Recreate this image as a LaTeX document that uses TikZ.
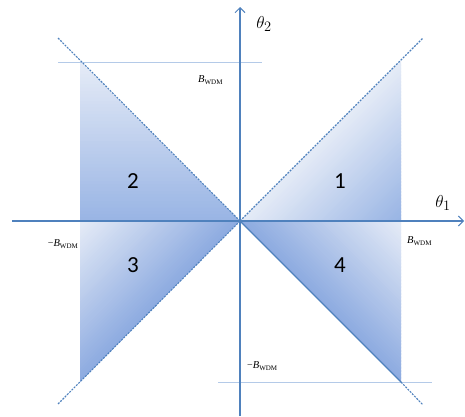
\documentclass[tikz,border=0pt]{standalone}
\usepackage{fontspec}
\setmainfont{Liberation Serif}
\newfontfamily\numfont{Carlito}
\usetikzlibrary{arrows.meta,calc}
\definecolor{axblue}{RGB}{79,129,189}
\definecolor{thinblue}{RGB}{180,202,232}
\definecolor{lightfill}{RGB}{230,236,247}
\definecolor{darkfill}{RGB}{140,170,224}
\definecolor{midfill}{RGB}{152,180,228}
\newcommand{\bwdm}{{\fontsize{10.5}{12}\selectfont\itshape B}\raisebox{-0.45ex}{\fontsize{7}{8}\selectfont WDM}}
% gradient triangle: apex #1, base #2--#3, base colour #4, apex colour #5
\newcommand{\gradtri}[5]{%
  \foreach \i in {0,...,47}{%
    \pgfmathsetmacro\sa{\i/48}%
    \pgfmathsetmacro\sb{min((\i+1)/48+0.012,1)}%
    \pgfmathtruncatemacro\pc{100-100*(\i+0.5)/48}%
    \fill[color=#4!\pc!#5] ($(#2)!\sa!(#1)$) -- ($(#3)!\sa!(#1)$) -- ($(#3)!\sb!(#1)$) -- ($(#2)!\sb!(#1)$) -- cycle;
  }%
}
\tikzset{
  axisline/.style={draw=axblue, line width=1.2pt, -{Straight Barb[length=5pt,width=10pt,line width=1pt]}},
  diagdash/.style={draw=axblue, line width=1.1pt, dash pattern=on 2pt off 1.2pt},
  diagsolid/.style={draw=axblue, line width=1.4pt},
  guide/.style={draw=thinblue, line width=0.5pt},
  numlabel/.style={font=\numfont\fontsize{23}{26}\selectfont, inner sep=0pt},
  axlabel/.style={font=\fontsize{19}{22}\selectfont, inner sep=0pt},
  blabel/.style={inner sep=0pt}
}
\begin{document}
\begin{tikzpicture}[x=1pt,y=-1pt]
\useasboundingbox (0,0) rectangle (465,416);
% key coordinates
\coordinate (O) at (240,221);
\coordinate (TR) at (401,61);
\coordinate (TL) at (80,61);
\coordinate (BR) at (401,382);
\coordinate (BL) at (80,382);
\coordinate (R) at (401,221);
\coordinate (L) at (80,221);
\coordinate (dTL) at (58,38);
\coordinate (dTR) at (423,38);
\coordinate (dBL) at (58,404);
\coordinate (dBR) at (423,405);
\coordinate (gTa) at (58,62);
\coordinate (gTb) at (262,62);
\coordinate (gBa) at (218,382);
\coordinate (gBb) at (432,382);
\coordinate (xa) at (12,221);
\coordinate (xb) at (464,221);
\coordinate (ya) at (240,416);
\coordinate (yb) at (240,7);
% shaded regions
\gradtri{R}{O}{TR}{lightfill}{midfill}
\gradtri{TL}{L}{O}{midfill}{lightfill}
\gradtri{L}{O}{BL}{darkfill}{lightfill}
\gradtri{R}{O}{BR}{darkfill}{lightfill}
% guide lines
\draw[guide] (gTa) -- (gTb);
\draw[guide] (gBa) -- (gBb);
% diagonals
\draw[diagdash] (dTL) -- (O);
\draw[diagdash] (O) -- (dTR);
\draw[diagdash] (O) -- (dBL);
\draw[diagsolid] (O) -- (BR);
\draw[diagdash] (BR) -- (dBR);
% axes
\draw[axisline] (xa) -- (xb);
\draw[axisline] (ya) -- (yb);
% labels
\node[axlabel] (t2) at (264,24) {$\theta_2$};
\node[axlabel] (t1) at (443,203) {$\theta_1$};
\node[blabel, anchor=west] (b1) at (198,80) {\bwdm};
\node[blabel, anchor=east] (b2) at (78,244) {−\bwdm};
\node[blabel, anchor=west] (b3) at (407,241) {\bwdm};
\node[blabel, anchor=west] (b4) at (247,366) {−\bwdm};
\node[numlabel] (n1) at (340,181) {1};
\node[numlabel] (n2) at (133,181) {2};
\node[numlabel] (n3) at (133,265) {3};
\node[numlabel] (n4) at (340,265) {4};
\end{tikzpicture}
\end{document}
